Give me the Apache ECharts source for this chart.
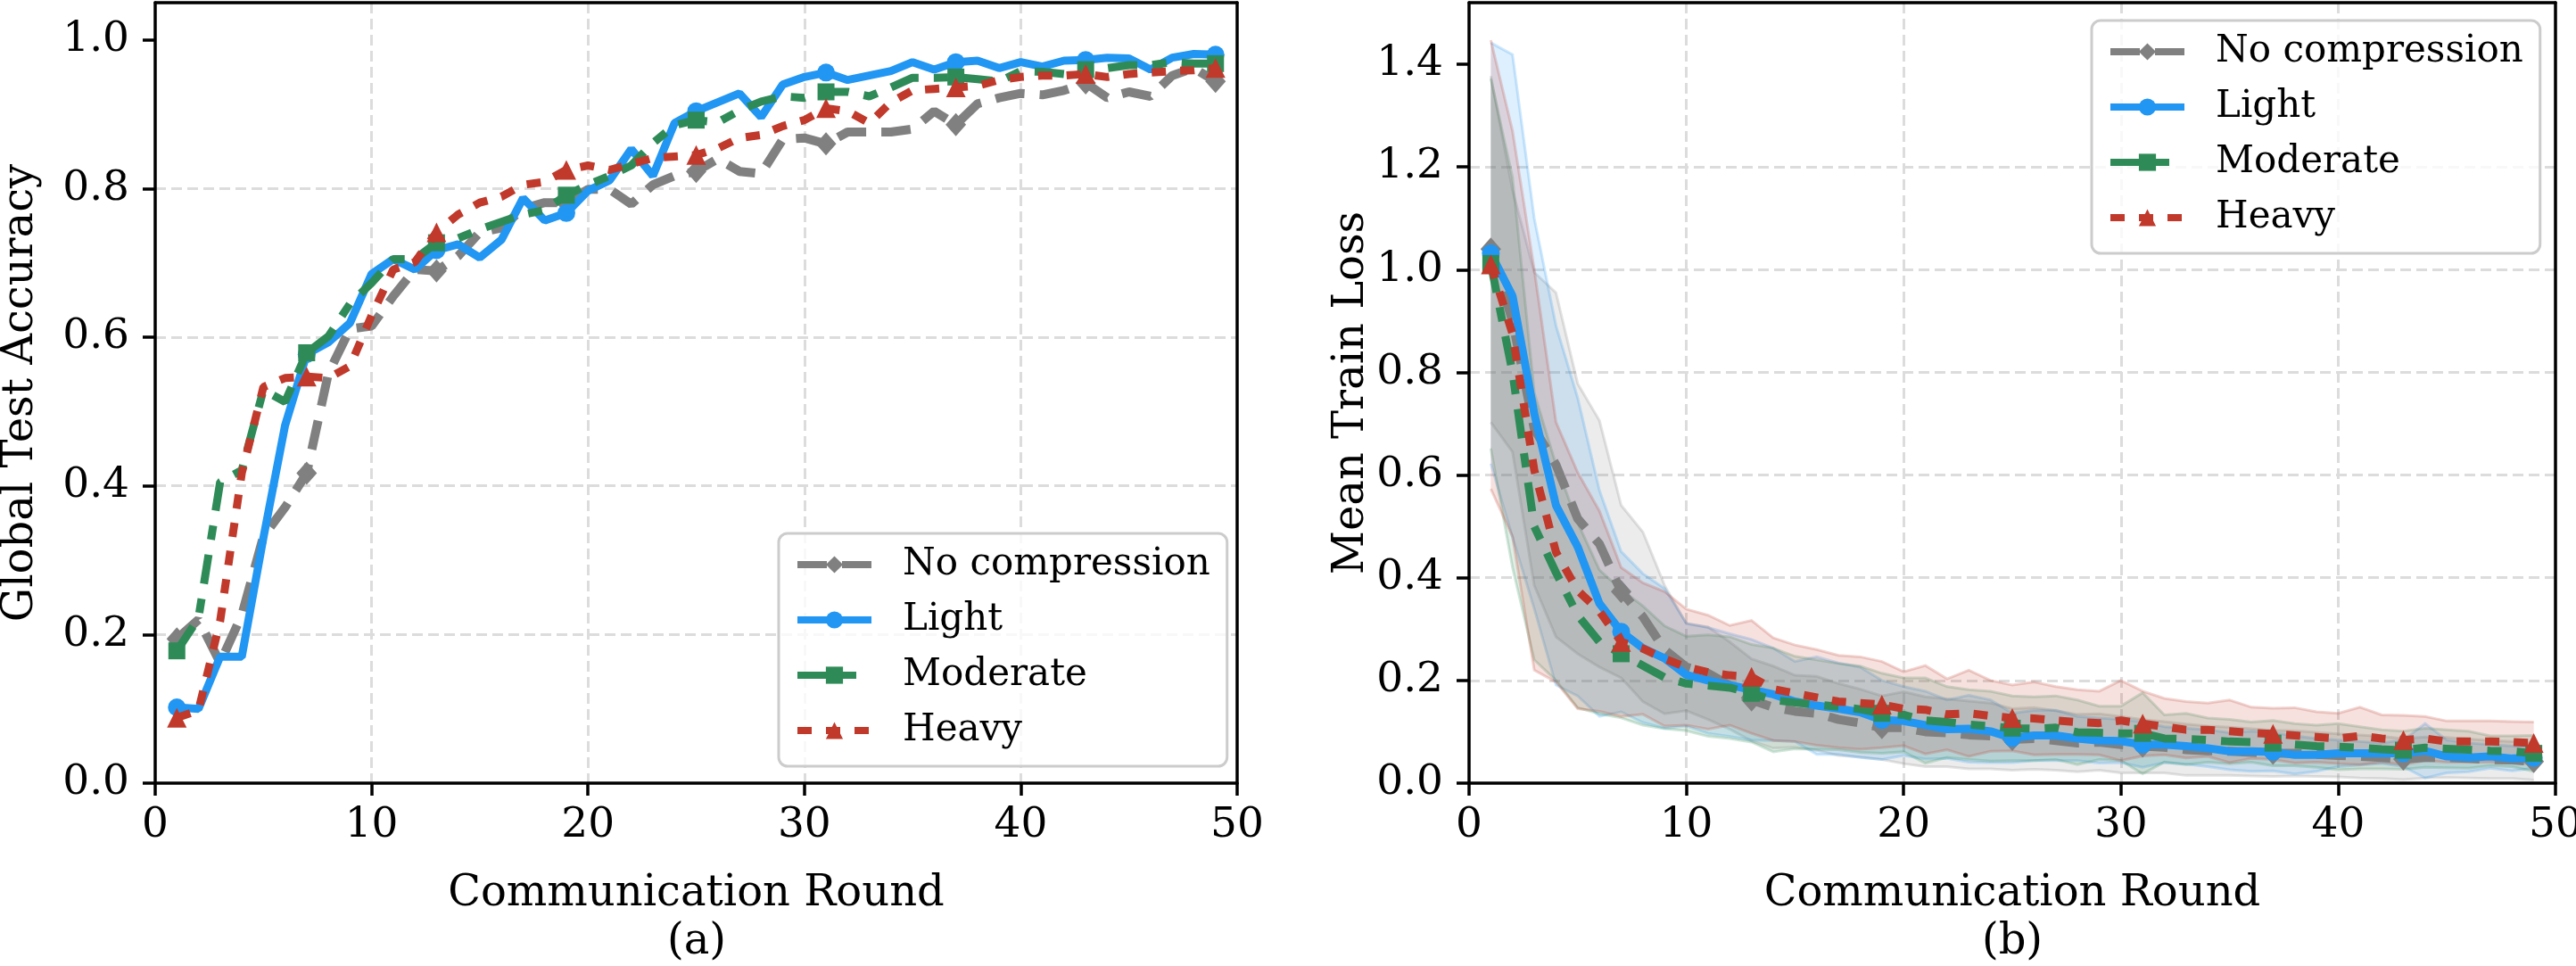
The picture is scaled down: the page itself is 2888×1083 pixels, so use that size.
<!DOCTYPE html>
<html>
<head>
<meta charset="utf-8">
<script src="https://cdn.jsdelivr.net/npm/echarts@6/dist/echarts.min.js"></script>
<style>
  html, body { margin: 0; padding: 0; background: #fff; }
  #chart { width: 2888px; height: 1083px; }
</style>
</head>
<body>
<div id="chart"></div>
<script>
// communication rounds (x)
var rounds = [1, 2, 3, 4, 5, 6, 7, 8, 9, 10, 11, 12, 13, 14, 15, 16, 17, 18, 19, 20,
  21, 22, 23, 24, 25, 26, 27, 28, 29, 30, 31, 32, 33, 34, 35, 36, 37, 38, 39, 40,
  41, 42, 43, 44, 45, 46, 47, 48, 49];

// (a) global test accuracy
var accNone = [0.194, 0.22, 0.162, 0.226, 0.332, 0.371, 0.417, 0.551, 0.611, 0.615,
  0.655, 0.691, 0.689, 0.709, 0.741, 0.747, 0.773, 0.781, 0.781, 0.799,
  0.799, 0.779, 0.805, 0.817, 0.823, 0.84, 0.823, 0.82, 0.866, 0.868,
  0.86, 0.876, 0.876, 0.876, 0.88, 0.904, 0.886, 0.914, 0.922, 0.928,
  0.926, 0.932, 0.942, 0.922, 0.93, 0.924, 0.952, 0.962, 0.944];
var accLight = [0.102, 0.1, 0.17, 0.17, 0.33, 0.481, 0.577, 0.593, 0.619, 0.685,
  0.705, 0.691, 0.717, 0.725, 0.707, 0.731, 0.787, 0.757, 0.767, 0.797,
  0.811, 0.853, 0.817, 0.888, 0.904, 0.916, 0.928, 0.896, 0.94, 0.95,
  0.956, 0.946, 0.952, 0.958, 0.97, 0.96, 0.97, 0.972, 0.962, 0.97,
  0.964, 0.972, 0.973, 0.976, 0.975, 0.96, 0.976, 0.981, 0.98];
var accModerate = [0.178, 0.222, 0.405, 0.421, 0.529, 0.513, 0.579, 0.601, 0.645, 0.673,
  0.705, 0.705, 0.727, 0.733, 0.745, 0.755, 0.765, 0.771, 0.791, 0.805,
  0.817, 0.831, 0.861, 0.885, 0.892, 0.889, 0.905, 0.917, 0.924, 0.922,
  0.93, 0.93, 0.924, 0.936, 0.949, 0.949, 0.95, 0.947, 0.944, 0.958,
  0.957, 0.954, 0.96, 0.962, 0.966, 0.966, 0.97, 0.968, 0.968];
var accHeavy = [0.088, 0.098, 0.218, 0.417, 0.533, 0.545, 0.547, 0.545, 0.561, 0.629,
  0.691, 0.701, 0.741, 0.765, 0.781, 0.789, 0.805, 0.809, 0.825, 0.831,
  0.825, 0.833, 0.841, 0.843, 0.845, 0.854, 0.868, 0.872, 0.884, 0.892,
  0.908, 0.904, 0.888, 0.916, 0.932, 0.934, 0.936, 0.938, 0.946, 0.95,
  0.952, 0.952, 0.954, 0.95, 0.954, 0.956, 0.958, 0.959, 0.962];

// (b) mean train loss
var lossNone = [1.04, 0.9, 0.69, 0.62, 0.515, 0.466, 0.373, 0.324, 0.26, 0.226,
  0.214, 0.19, 0.162, 0.148, 0.14, 0.136, 0.124, 0.117, 0.108, 0.108,
  0.1, 0.098, 0.094, 0.092, 0.085, 0.087, 0.083, 0.078, 0.08, 0.075,
  0.072, 0.07, 0.065, 0.063, 0.062, 0.06, 0.058, 0.058, 0.056, 0.054,
  0.052, 0.05, 0.047, 0.05, 0.05, 0.048, 0.046, 0.045, 0.042];
var lossLight = [1.032, 0.949, 0.72, 0.541, 0.46, 0.35, 0.295, 0.263, 0.243, 0.211,
  0.2, 0.191, 0.182, 0.173, 0.159, 0.151, 0.145, 0.138, 0.123, 0.121,
  0.113, 0.105, 0.106, 0.101, 0.088, 0.093, 0.093, 0.087, 0.083, 0.082,
  0.075, 0.075, 0.072, 0.068, 0.062, 0.062, 0.061, 0.055, 0.055, 0.058,
  0.058, 0.058, 0.058, 0.063, 0.052, 0.05, 0.052, 0.048, 0.049];
var lossModerate = [1.012, 0.8, 0.5, 0.41, 0.327, 0.275, 0.252, 0.229, 0.206, 0.194,
  0.19, 0.186, 0.175, 0.162, 0.157, 0.153, 0.149, 0.144, 0.136, 0.133,
  0.122, 0.119, 0.114, 0.111, 0.107, 0.106, 0.108, 0.099, 0.098, 0.097,
  0.097, 0.087, 0.086, 0.084, 0.081, 0.08, 0.078, 0.075, 0.072, 0.071,
  0.069, 0.066, 0.064, 0.069, 0.067, 0.065, 0.063, 0.062, 0.058];
var lossHeavy = [1.01, 0.875, 0.61, 0.45, 0.375, 0.335, 0.275, 0.262, 0.242, 0.226,
  0.216, 0.21, 0.207, 0.183, 0.175, 0.167, 0.159, 0.156, 0.153, 0.145,
  0.143, 0.134, 0.136, 0.131, 0.127, 0.126, 0.122, 0.119, 0.117, 0.122,
  0.116, 0.11, 0.104, 0.104, 0.101, 0.098, 0.096, 0.093, 0.09, 0.087,
  0.092, 0.087, 0.084, 0.087, 0.081, 0.081, 0.081, 0.08, 0.078];

// spread of the train loss across clients (band = mean +/- std)
var stdNone = [0.337, 0.255, 0.305, 0.335, 0.263, 0.24, 0.168, 0.165, 0.125, 0.085,
  0.09, 0.085, 0.08, 0.08, 0.07, 0.072, 0.07, 0.066, 0.062, 0.07,
  0.068, 0.066, 0.066, 0.064, 0.06, 0.06, 0.058, 0.056, 0.055, 0.055,
  0.052, 0.05, 0.05, 0.048, 0.047, 0.046, 0.045, 0.044, 0.043, 0.042,
  0.042, 0.041, 0.04, 0.04, 0.039, 0.038, 0.037, 0.036, 0.036];
var stdLight = [0.41, 0.47, 0.38, 0.35, 0.29, 0.22, 0.156, 0.145, 0.136, 0.1,
  0.103, 0.1, 0.098, 0.09, 0.078, 0.095, 0.089, 0.088, 0.077, 0.067,
  0.066, 0.057, 0.065, 0.061, 0.048, 0.049, 0.049, 0.043, 0.044, 0.042,
  0.044, 0.035, 0.035, 0.036, 0.036, 0.039, 0.037, 0.037, 0.032, 0.026,
  0.023, 0.02, 0.026, 0.053, 0.032, 0.028, 0.023, 0.024, 0.02];
var stdModerate = [0.36, 0.38, 0.26, 0.21, 0.18, 0.14, 0.125, 0.116, 0.1, 0.092,
  0.099, 0.099, 0.095, 0.101, 0.09, 0.087, 0.084, 0.084, 0.078, 0.072,
  0.083, 0.069, 0.068, 0.068, 0.063, 0.062, 0.062, 0.063, 0.052, 0.053,
  0.079, 0.046, 0.05, 0.043, 0.043, 0.039, 0.044, 0.041, 0.041, 0.045,
  0.041, 0.038, 0.037, 0.038, 0.037, 0.036, 0.029, 0.03, 0.035];
var stdHeavy = [0.437, 0.395, 0.39, 0.253, 0.23, 0.195, 0.145, 0.128, 0.131, 0.113,
  0.111, 0.097, 0.11, 0.1, 0.094, 0.093, 0.09, 0.09, 0.084, 0.072,
  0.086, 0.069, 0.084, 0.069, 0.064, 0.071, 0.066, 0.063, 0.062, 0.078,
  0.063, 0.055, 0.055, 0.052, 0.061, 0.05, 0.05, 0.054, 0.049, 0.049,
  0.056, 0.046, 0.048, 0.043, 0.04, 0.04, 0.04, 0.04, 0.041];

var accTicks = [0, 0.2, 0.4, 0.6, 0.8, 1.0];
var lossTicks = [0, 0.2, 0.4, 0.6, 0.8, 1.0, 1.2, 1.4];

var names = ['No compression', 'Light', 'Moderate', 'Heavy'];
var colors = ['#808080', '#2196f3', '#2e8b57', '#c0392b'];
var symbols = ['diamond', 'circle', 'rect', 'triangle'];
var symbolSizes = [[23, 26], 20, 19, 22];
var dashes = [[33, 17], 'solid', [33, 17, 16, 17], [16, 16]];
var widths = [10, 9, 9, 9];

var accSets = [accNone, accLight, accModerate, accHeavy];
var lossSets = [lossNone, lossLight, lossModerate, lossHeavy];
var stdSets = [stdNone, stdLight, stdModerate, stdHeavy];

var FONT = 'DejaVu Serif';

// markers on every 6th round, starting at round 1
function markedData(vals) {
  return rounds.map(function (r, i) {
    if (i % 6 === 0) return [r, vals[i]];
    return { value: [r, vals[i]], symbol: 'none' };
  });
}

function xAxisAt(idx) {
  return {
    type: 'value', gridIndex: idx, min: 0, max: 50, interval: 10,
    name: 'Communication Round', nameLocation: 'middle', nameGap: 101,
    nameTextStyle: { fontFamily: FONT, fontSize: 48, color: '#000' },
    axisLine: { show: true, onZero: false, lineStyle: { color: '#000', width: 3.5 } },
    axisTick: { show: true, length: 14, lineStyle: { color: '#000', width: 3.5 } },
    axisLabel: { fontFamily: FONT, fontSize: 47, color: '#000', margin: 24 },
    splitLine: { show: true, showMinLine: false, showMaxLine: false,
      lineStyle: { color: '#dcdcdc', width: 3, type: [12, 6] } }
  };
}

function yAxisAt(idx, max, ticks, label, gap) {
  return {
    type: 'value', gridIndex: idx, min: 0, max: max, interval: 0.2,
    name: label, nameLocation: 'middle', nameGap: gap,
    nameTextStyle: { fontFamily: FONT, fontSize: 48, color: '#000' },
    axisLine: { show: true, onZero: false, lineStyle: { color: '#000', width: 3.5 } },
    axisTick: { show: true, length: 14, customValues: ticks, lineStyle: { color: '#000', width: 3.5 } },
    axisLabel: {
      fontFamily: FONT, fontSize: 47, color: '#000', margin: 29, customValues: ticks,
      formatter: function (v) { return v.toFixed(1); }
    },
    splitLine: { show: true, showMinLine: false, showMaxLine: false,
      lineStyle: { color: '#dcdcdc', width: 3, type: [12, 6] } }
  };
}

// plain black frame lines for the top and right sides
function frameAxis(kind, idx, max) {
  return {
    type: 'value', gridIndex: idx, min: 0, max: max,
    position: kind === 'x' ? 'top' : 'right',
    axisLine: { show: true, onZero: false, lineStyle: { color: '#000', width: 3.5 } },
    axisTick: { show: false }, axisLabel: { show: false }, splitLine: { show: false }
  };
}

function legendAt(left, top) {
  return {
    left: left, top: top, orient: 'vertical', z: 20,
    data: names, selectedMode: false,
    itemWidth: 83, itemHeight: 24, itemGap: 18,
    padding: [13, 19, 18, 17],
    backgroundColor: 'rgba(255,255,255,0.8)',
    borderColor: '#cccccc', borderWidth: 3, borderRadius: 10,
    lineStyle: { width: 8 },
    textStyle: { fontFamily: FONT, fontSize: 42, color: '#000', lineHeight: 44, padding: [0, 0, 0, 30] }
  };
}

// one translucent polygon (mean - std .. mean + std) with faint edges
function bandRenderer(color) {
  return function (params, api) {
    if (params.dataIndex !== 0) return null;
    var n = params.dataInsideLength;
    var upper = [], lower = [];
    for (var i = 0; i < n; i++) {
      upper.push(api.coord([api.value(0, i), api.value(2, i)]));
      lower.push(api.coord([api.value(0, i), api.value(1, i)]));
    }
    var poly = upper.concat(lower.slice().reverse());
    return {
      type: 'group',
      children: [
        { type: 'polygon', shape: { points: poly }, style: { fill: color, opacity: 0.15 } },
        { type: 'polyline', shape: { points: upper }, style: { stroke: color, lineWidth: 3, opacity: 0.22, fill: null } },
        { type: 'polyline', shape: { points: lower }, style: { stroke: color, lineWidth: 3, opacity: 0.22, fill: null } }
      ]
    };
  };
}

var series = [];

// (a) accuracy curves
accSets.forEach(function (vals, k) {
  series.push({
    type: 'line', name: names[k], xAxisIndex: 0, yAxisIndex: 0,
    data: markedData(vals),
    symbol: symbols[k], symbolSize: symbolSizes[k], showSymbol: true,
    lineStyle: { color: colors[k], width: widths[k], type: dashes[k], cap: 'butt' },
    itemStyle: { color: colors[k] },
    z: 3 + k, silent: true, animation: false
  });
});

// (b) shaded spread bands
lossSets.forEach(function (vals, k) {
  var sd = stdSets[k];
  series.push({
    type: 'custom', name: names[k] + ' spread', xAxisIndex: 1, yAxisIndex: 1,
    data: rounds.map(function (r, i) { return [r, vals[i] - sd[i], vals[i] + sd[i]]; }),
    encode: { x: 0, y: [1, 2] },
    renderItem: bandRenderer(colors[k]),
    z: 1, silent: true, animation: false
  });
});

// (b) mean loss curves
lossSets.forEach(function (vals, k) {
  series.push({
    type: 'line', name: names[k], xAxisIndex: 1, yAxisIndex: 1,
    data: markedData(vals),
    symbol: symbols[k], symbolSize: symbolSizes[k], showSymbol: true,
    lineStyle: { color: colors[k], width: widths[k], type: dashes[k], cap: 'butt' },
    itemStyle: { color: colors[k] },
    z: 3 + k, silent: true, animation: false
  });
});

var chart = echarts.init(document.getElementById('chart'), null, { renderer: 'canvas' });
chart.setOption({
  backgroundColor: '#ffffff',
  animation: false,
  grid: [
    { left: 174, right: 1501, top: 3, bottom: 205, outerBoundsMode: 'none' },
    { left: 1647, right: 23, top: 3, bottom: 205, outerBoundsMode: 'none' }
  ],
  xAxis: [xAxisAt(0), xAxisAt(1), frameAxis('x', 0, 50), frameAxis('x', 1, 50)],
  yAxis: [
    yAxisAt(0, 1.05, accTicks, 'Global Test Accuracy', 126),
    yAxisAt(1, 1.52, lossTicks, 'Mean Train Loss', 100),
    frameAxis('y', 0, 1.05), frameAxis('y', 1, 1.52)
  ],
  legend: [legendAt(873, 598), legendAt(2345, 23)],
  graphic: [
    { type: 'text', x: 781, y: 1057, style: { text: '(a)', fontFamily: FONT, fontSize: 48, fill: '#000', align: 'center', verticalAlign: 'middle' } },
    { type: 'text', x: 2256, y: 1057, style: { text: '(b)', fontFamily: FONT, fontSize: 48, fill: '#000', align: 'center', verticalAlign: 'middle' } }
  ],
  series: series
});
</script>
</body>
</html>
